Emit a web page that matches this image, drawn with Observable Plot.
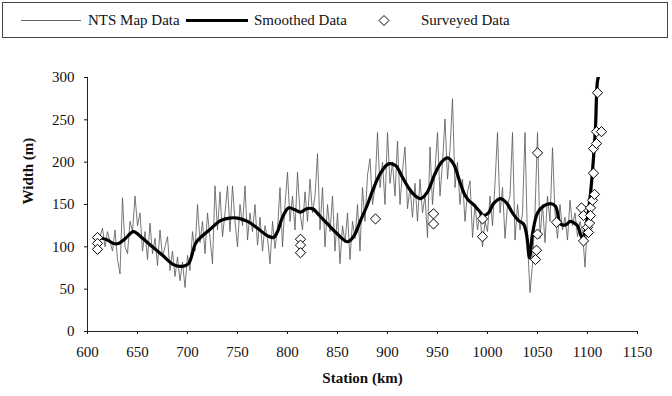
<!DOCTYPE html>
<html>
<head>
<meta charset="utf-8">
<script src="https://cdn.jsdelivr.net/npm/d3@7"></script>
<script src="https://cdn.jsdelivr.net/npm/@observablehq/plot@0.6"></script>
<style>
  html, body { margin: 0; padding: 0; background: #fff; }
  #wrap { position: relative; width: 672px; height: 396px; font-family: "Liberation Serif", "Times New Roman", Times, Tinos, "Nimbus Roman", "DejaVu Serif", "Noto Serif", serif; }
  #legend { position: absolute; left: 2px; top: 2px; width: 664px; height: 34px; border: 1px solid #444; box-sizing: content-box; }
  #legend .item { position: absolute; top: 8px; font-size: 15px; color: #111; line-height: 18px; }
  #legend svg { position: absolute; top: 0; left: 0; }
  #chart { position: absolute; left: 0; top: 40px; }
  #chart svg, #chart svg text { font-family: "Liberation Serif", "Times New Roman", Times, Tinos, "Nimbus Roman", "DejaVu Serif", "Noto Serif", serif; }
</style>
</head>
<body>
<div id="wrap">
  <div id="legend">
    <svg width="664" height="34">
      <line x1="18" x2="78" y1="17.5" y2="17.5" stroke="#666" stroke-width="1"></line>
      <line x1="183" x2="245" y1="17.5" y2="17.5" stroke="#000" stroke-width="3"></line>
      <path d="M381,12.5 L386,17.5 L381,22.5 L376,17.5 Z" fill="#fff" stroke="#000" stroke-width="1"></path>
    </svg>
    <span class="item" style="left:85px">NTS Map Data</span>
    <span class="item" style="left:251px">Smoothed Data</span>
    <span class="item" style="left:418px">Surveyed Data</span>
  </div>
  <div id="chart"></div>
</div>
<script>
// NTS map data: widths sampled every 2.5 km starting at 612.5 km
const ntsStart = 612.5;
const ntsStep = 2.5;
const ntsWidth = [
  112,122,100,118,106,95,120,85,68,158,100,92,
  130,118,160,125,140,95,118,85,
  128,92,110,78,120,88,100,112,72,95,65,88,60,82,52,90,
  72,118,95,150,105,130,92,140,110,80,172,120,165,112,140,172,
  118,172,130,100,150,125,172,108,140,118,150,102,135,95,125,110,80,130,98,120,
  170,100,150,188,130,160,120,188,140,120,165,130,180,140,160,210,
  120,170,100,150,118,160,95,140,80,125,105,140,85,130,110,150,
  95,170,130,185,204,150,170,235,170,200,150,235,
  175,200,160,225,150,190,218,145,170,135,175,130,180,140,160,111,
  218,150,190,235,160,200,251,180,215,275,170,200,
  150,180,130,165,178,111,150,120,140,100,130,118,
  160,125,175,235,140,170,110,150,160,235,108,150,120,140,235,105,
  46,80,140,235,110,150,105,160,
  130,217,140,110,150,120,135,108,155,125,140,112,130,118,
  76,130,165,190,240,290,305
];

// Smoothed data
const smoothKm = [612,620,626,631,638,646,655,665,675,686,695,701,708,713,722,733,742,750,760,770,780,786,790,795,801,807,813,819,825,832,840,850,860,866,873,880,885,893,901,908,915,922,928,933,940,947,954,960,966,972,977,981,986,992,996,1001,1006,1013,1019,1025,1031,1036,1039,1042,1045,1050,1056,1063,1068,1073,1078,1083,1087,1090,1095,1100,1103,1106,1108,1110,1112];
const smoothWidth = [111,108,104,104,110,118,110,100,90,79,77,80,104,111,120,131,134,134,130,122,113,111,118,135,146,144,141,145,145,137,127,115,106,112,131,150,166,187,198,196,182,168,160,157,165,185,200,205,198,178,162,155,150,142,137,140,151,157,152,140,131,127,115,87,115,140,148,151,148,127,126,130,128,125,110,135,163,205,241,296,305];

// Surveyed data
const surveyKm = [610,610,610,813,813,813,888,946,946,995,995,1050,1050,1049,1048,1069,1094,1096,1096,1100,1101,1102,1103,1103,1105,1107,1106,1106,1109,1109,1114,1110];
const surveyWidth = [111,104,97,109,102,93,133,139,127,133,112,211,115,96,85,129,146,137,107,123,117,128,146,137,155,162,187,216,222,236,236,282];

const xTicks = [600,650,700,750,800,850,900,950,1000,1050,1100,1150];
const yTicks = [0,50,100,150,200,250,300];

const nts = ntsWidth.map((w, i) => ({km: ntsStart + i * ntsStep, w}));
const smooth = smoothKm.map((km, i) => ({km, w: smoothWidth[i]}));
const survey = surveyKm.map((km, i) => ({km, w: surveyWidth[i]}));

const serif = "'Liberation Serif', 'Times New Roman', Times, Tinos, 'Nimbus Roman', 'DejaVu Serif', 'Noto Serif', serif";
const chart = Plot.plot({
  width: 672,
  height: 356,
  marginLeft: 87,
  marginRight: 35,
  marginTop: 37,
  marginBottom: 65,
  style: {fontFamily: serif, fontSize: "15px", color: "#111", background: "#fff"},
  x: {domain: [600, 1150], ticks: xTicks, tickFormat: d => String(d), tickSize: 3, tickPadding: 12, label: null},
  y: {domain: [0, 300], ticks: yTicks, tickFormat: d => String(d), tickSize: 3, tickPadding: 10, label: null},
  marks: [
    Plot.line(nts, {x: "km", y: "w", stroke: "#555", strokeWidth: 0.8, clip: true}),
    Plot.line(smooth, {x: "km", y: "w", stroke: "#000", strokeWidth: 3.2, curve: "catmull-rom", clip: true}),
    Plot.dot(survey, {x: "km", y: "w", symbol: "diamond2", r: 4.6, fill: "#fff", stroke: "#000", strokeWidth: 1}),
    Plot.ruleX([600], {stroke: "#222"}),
    Plot.ruleY([0], {stroke: "#222"}),
    Plot.text(["Width (m)"], {text: d => d, frameAnchor: "left", dx: -59, rotate: -90, fontWeight: "bold", fontSize: 15, fontFamily: serif}),
    Plot.text(["Station (km)"], {text: d => d, frameAnchor: "bottom", dy: 51, fontWeight: "bold", fontSize: 15, fontFamily: serif})
  ]
});
document.getElementById("chart").appendChild(chart);
</script>
</body>
</html>
